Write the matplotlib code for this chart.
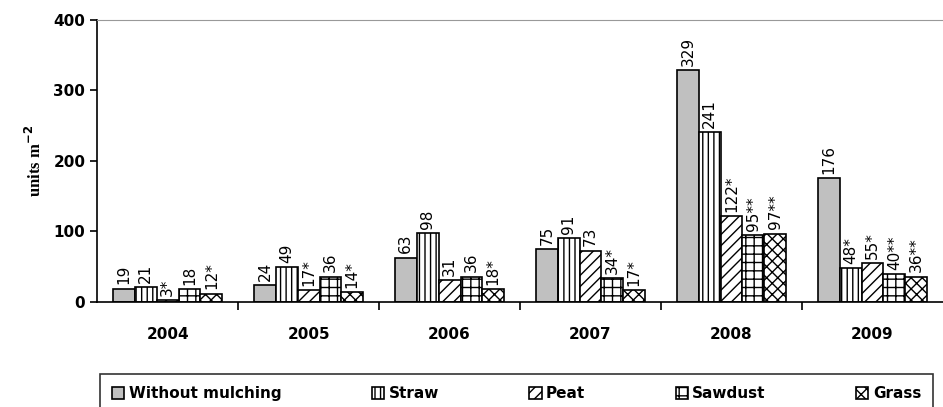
import numpy as np
import matplotlib
matplotlib.use("Agg")
import matplotlib.pyplot as plt

years = ["2004", "2005", "2006", "2007", "2008", "2009"]
series = ["Without mulching", "Straw", "Peat", "Sawdust", "Grass"]
without_mulching = [19, 24, 63, 75, 329, 176]
straw = [21, 49, 98, 91, 241, 48]
peat = [3, 17, 31, 73, 122, 55]
sawdust = [18, 36, 36, 34, 95, 40]
grass = [12, 14, 18, 17, 97, 36]
labels_wm = ["19", "24", "63", "75", "329", "176"]
labels_straw = ["21", "49", "98", "91", "241", "48*"]
labels_peat = ["3*", "17*", "31", "73", "122*", "55*"]
labels_saw = ["18", "36", "36", "34*", "95**", "40**"]
labels_grass = ["12*", "14*", "18*", "17*", "97**", "36**"]

values = [without_mulching, straw, peat, sawdust, grass]
labels = [labels_wm, labels_straw, labels_peat, labels_saw, labels_grass]
fills = ["#c0c0c0", "white", "white", "white", "white"]
hatches = [None, "|||", "///", "++", "xxx"]

plt.rcParams["hatch.linewidth"] = 1.0

fig = plt.figure(figsize=(9.43, 4.07), dpi=100)
ax = fig.add_axes([0.103, 0.258, 0.897, 0.693])

x = np.arange(len(years))
w = 0.155
for i in range(5):
    pos = x + (i - 2) * w
    bars = ax.bar(pos, values[i], width=w, color=fills[i], hatch=hatches[i],
                  edgecolor="black", linewidth=1.2, label=series[i])
    for b, t in zip(bars, labels[i]):
        ax.text(b.get_x() + b.get_width() / 2, b.get_height() + 6, t,
                rotation=90, ha="center", va="bottom", fontsize=11)

ax.set_xlim(-0.5, 5.5)
ax.set_ylim(0, 400)
ax.set_yticks([0, 100, 200, 300, 400])
ax.set_xticks(x)
ax.set_xticklabels(years)
ax.set_xticks(np.arange(0.5, 5.5, 1), minor=True)
ax.tick_params(axis="x", which="major", length=0, pad=18)
ax.tick_params(axis="x", which="minor", length=6, width=1.2, direction="out")
ax.tick_params(axis="y", length=5, width=1.2, direction="out")
for lab in ax.get_xticklabels() + ax.get_yticklabels():
    lab.set_fontweight("bold")
    lab.set_fontsize(11)

ax.spines["right"].set_visible(False)
ax.spines["top"].set_color("#999999")
ax.spines["left"].set_linewidth(1.2)
ax.spines["bottom"].set_linewidth(1.2)

ax.set_ylabel("units m$^{\\mathbf{-2}}$", fontsize=12, fontweight="bold",
              family="Liberation Serif", labelpad=6)

leg = fig.legend(loc="lower left", bbox_to_anchor=(0.098, -0.035, 0.9, 0.125),
                 mode="expand", ncol=5, frameon=True, fancybox=False,
                 edgecolor="black", handlelength=0.8, handleheight=0.8,
                 handletextpad=0.3, borderpad=0.8,
                 prop={"weight": "bold", "size": 11})
leg.get_frame().set_linewidth(1.2)

plt.savefig("out.png", dpi=100)
plt.close()
